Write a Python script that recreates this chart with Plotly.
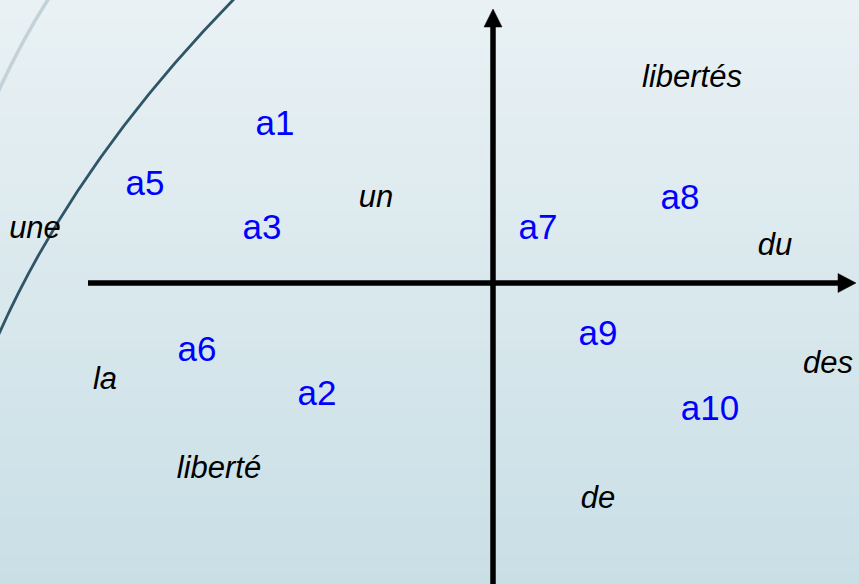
import plotly.graph_objects as go

# individuals (blue) and words (black italic), plane coordinates
ind_labels = ['a1', 'a2', 'a3', 'a5', 'a6', 'a7', 'a8', 'a9', 'a10']
ind_x = [-2.18, -1.76, -2.31, -3.48, -2.96, 0.45, 1.87, 1.05, 2.17]
ind_y = [1.57, -1.13, 0.53, 0.97, -0.69, 0.53, 0.83, -0.53, -1.28]

word_labels = ['une', 'un', 'libertés', 'du', 'des', 'de', 'la', 'liberté']
word_x = [-4.58, -1.17, 1.99, 2.82, 3.35, 1.05, -3.88, -2.74]
word_y = [0.53, 0.84, 2.04, 0.36, -0.82, -2.17, -0.98, -1.87]

W, H = 859, 584
x_range = [-4.93, 3.66]
y_range = [-3.01, 2.83]

fig = go.Figure()

fig.add_trace(go.Scatter(
    x=ind_x, y=ind_y, mode='text', text=ind_labels,
    textfont=dict(family='Arial, Liberation Sans', size=35, color='#0000ff'),
    hoverinfo='skip', showlegend=False
))
fig.add_trace(go.Scatter(
    x=word_x, y=word_y, mode='text', text=['<i>%s</i>' % w for w in word_labels],
    textfont=dict(family='Arial, Liberation Sans', size=31, color='#000000'),
    hoverinfo='skip', showlegend=False
))

shapes = []

# vertical gradient background
top = (233, 241, 244)
bot = (201, 223, 230)
n = 60
for i in range(n):
    t = i / (n - 1)
    c = tuple(round(top[k] + (bot[k] - top[k]) * t) for k in range(3))
    shapes.append(dict(type='rect', xref='paper', yref='paper',
                       x0=0, x1=1, y0=1 - (i + 1) / n, y1=1 - i / n + 0.001,
                       fillcolor='rgb(%d,%d,%d)' % c, line=dict(width=0), layer='below'))

def p(px, py):
    return '%.4f %.4f' % (px / W, 1 - py / H)

# decorative arcs top-left
shapes.append(dict(type='path', xref='paper', yref='paper',
                   path='M %s Q %s %s' % (p(49, -2), p(22, 40), p(-2, 92)),
                   line=dict(color='#c3d2d8', width=3.5), layer='below'))
shapes.append(dict(type='path', xref='paper', yref='paper',
                   path='M %s Q %s %s' % (p(236, -3), p(76, 160), p(-2, 336)),
                   line=dict(color='#2f5568', width=2.8), layer='below'))

# axes with arrow heads
ax_w = 5.5
shapes.append(dict(type='line', x0=-4.05, x1=3.47, y0=0, y1=0,
                   line=dict(color='black', width=ax_w)))
shapes.append(dict(type='line', x0=0, x1=0, y0=-3.1, y1=2.58,
                   line=dict(color='black', width=ax_w)))
shapes.append(dict(type='path', fillcolor='black', line=dict(color='black', width=0.5),
                   path='M 3.63 0 L 3.45 0.095 L 3.45 -0.095 Z'))
shapes.append(dict(type='path', fillcolor='black', line=dict(color='black', width=0.5),
                   path='M 0 2.74 L -0.09 2.56 L 0.09 2.56 Z'))

fig.update_layout(
    width=W, height=H,
    margin=dict(l=0, r=0, t=0, b=0),
    shapes=shapes,
    plot_bgcolor='rgba(0,0,0,0)',
    paper_bgcolor='#d8e7ec',
    xaxis=dict(range=x_range, visible=False, fixedrange=True),
    yaxis=dict(range=y_range, visible=False, fixedrange=True),
    showlegend=False,
)

fig.write_html('out.html', config=dict(displayModeBar=False),
               post_script="document.body.style.margin='0';")
